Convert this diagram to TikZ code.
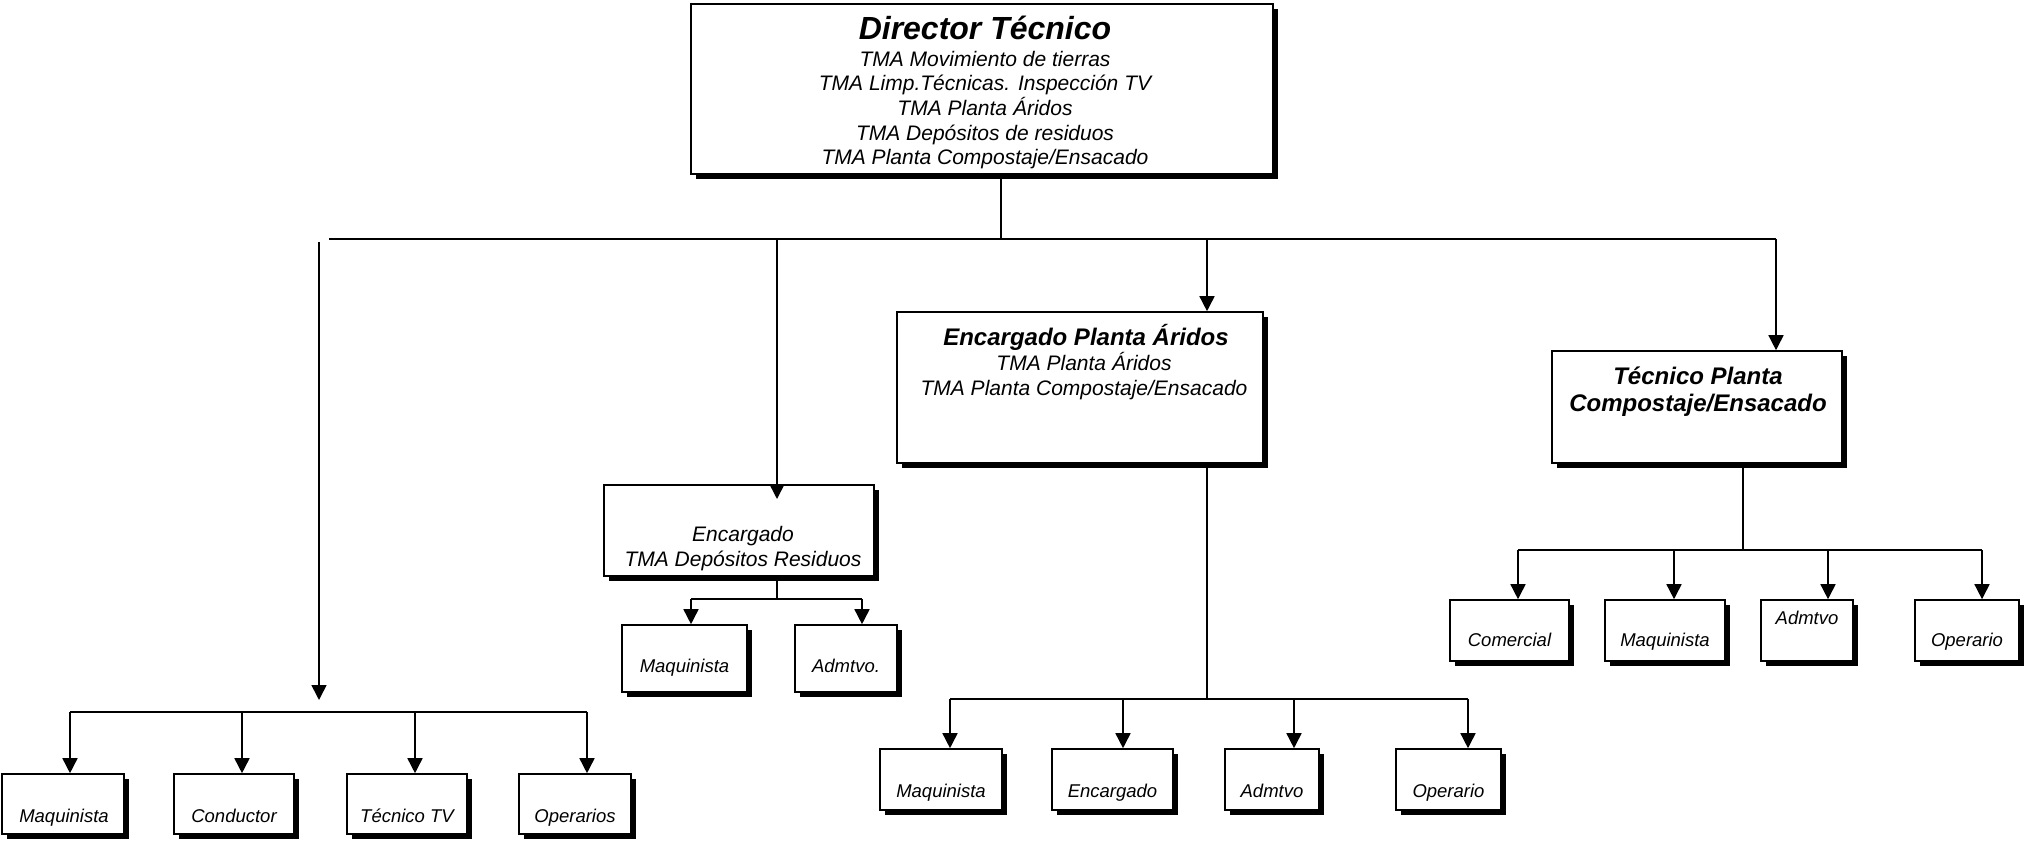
\documentclass[tikz,border=0pt]{standalone}
\usepackage{fontspec}
\setmainfont{Liberation Sans}
\usetikzlibrary{arrows.meta,shadows}
\begin{document}
\begin{tikzpicture}[x=1pt,y=-1pt,
  box/.style={draw=black,line width=1.6pt,fill=white,inner sep=0pt,
     general shadow={fill=black,shadow xshift=5pt,shadow yshift=-5pt}},
  ln/.style={line width=1.6pt},
  arr/.style={line width=1.6pt,-{Triangle[length=15pt,width=15pt]}},
  sm/.style={inner sep=0pt,anchor=base,font=\fontsize{18.5}{22}\selectfont\itshape},
  md/.style={inner sep=0pt,anchor=base,font=\fontsize{21}{25}\selectfont\itshape},
  bg/.style={inner sep=0pt,anchor=base,font=\fontsize{24}{28}\selectfont\bfseries\itshape},
  hg/.style={inner sep=0pt,anchor=base,font=\fontsize{32}{36}\selectfont\bfseries\itshape}]

\useasboundingbox (0,0) rectangle (2033,842);

% ---------- Director
\node[box,minimum width=582pt,minimum height=170pt] (dir) at (982,89) {};
\node[hg] (dirT0) at (985,40) {Director Técnico};
\node[md] (dirT1) at (985,67) {TMA Movimiento de tierras};
\node[md] (dirT2) at (985,91) {TMA Limp.Técnicas. Inspección TV};
\node[md] (dirT3) at (985,116) {TMA Planta Áridos};
\node[md] (dirT4) at (985,141) {TMA Depósitos de residuos};
\node[md] (dirT5) at (985,165) {TMA Planta Compostaje/Ensacado};

% ---------- second level boxes
\node[box,minimum width=270pt,minimum height=91pt] (dep) at (739,530.5) {};
\node[md] (depT1) at (743,541) {Encargado};
\node[md] (depT2) at (743,566) {TMA Depósitos Residuos};

\node[box,minimum width=366pt,minimum height=151pt] (ari) at (1080,387.5) {};
\node[bg] (ariT0) at (1086,345) {Encargado Planta Áridos};
\node[md] (ariT1) at (1084,370) {TMA Planta Áridos};
\node[md] (ariT2) at (1084,395) {TMA Planta Compostaje/Ensacado};

\node[box,minimum width=290pt,minimum height=112pt] (tec) at (1697,407) {};
\node[bg] (tecT0) at (1698,384) {Técnico Planta};
\node[bg] (tecT1) at (1698,411) {Compostaje/Ensacado};

% ---------- left group
\node[box,minimum width=122pt,minimum height=60pt] (l1) at (63,804) {};
\node[box,minimum width=120pt,minimum height=60pt] (l2) at (234,804) {};
\node[box,minimum width=120pt,minimum height=60pt] (l3) at (407,804) {};
\node[box,minimum width=112pt,minimum height=60pt] (l4) at (575,804) {};
\node[sm] (l1T) at (64,822) {Maquinista};
\node[sm] (l2T) at (234,822) {Conductor};
\node[sm] (l3T) at (407,822) {Técnico TV};
\node[sm] (l4T) at (575,822) {Operarios};

% ---------- deposit group
\node[box,minimum width=125pt,minimum height=67pt] (d1) at (684.5,658.5) {};
\node[box,minimum width=102pt,minimum height=67pt] (d2) at (846,658.5) {};
\node[sm] (d1T) at (684.5,672) {Maquinista};
\node[sm] (d2T) at (846,672) {Admtvo.};

% ---------- aridos group
\node[box,minimum width=122pt,minimum height=61pt] (a1) at (941,779.5) {};
\node[box,minimum width=121pt,minimum height=61pt] (a2) at (1112.5,779.5) {};
\node[box,minimum width=94pt,minimum height=61pt] (a3) at (1272,779.5) {};
\node[box,minimum width=105pt,minimum height=61pt] (a4) at (1448.5,779.5) {};
\node[sm] (a1T) at (941,797) {Maquinista};
\node[sm] (a2T) at (1112.5,797) {Encargado};
\node[sm] (a3T) at (1272,797) {Admtvo};
\node[sm] (a4T) at (1448.5,797) {Operario};

% ---------- tecnico group
\node[box,minimum width=119pt,minimum height=61pt] (t1) at (1509.5,630.5) {};
\node[box,minimum width=120pt,minimum height=61pt] (t2) at (1665,630.5) {};
\node[box,minimum width=92pt,minimum height=61pt] (t3) at (1807,630.5) {};
\node[box,minimum width=104pt,minimum height=61pt] (t4) at (1967,630.5) {};
\node[sm] (t1T) at (1509.5,646) {Comercial};
\node[sm] (t2T) at (1665,646) {Maquinista};
\node[sm] (t3T) at (1807,624) {Admtvo};
\node[sm] (t4T) at (1967,646) {Operario};

% ---------- coordinates
\coordinate (j0) at (1001,239);
\coordinate (barL) at (329,239);
\coordinate (barR) at (1776,239);
\coordinate (vL) at (319,242);
\coordinate (vLend) at (319,700);
\coordinate (depX) at (777,499);
\coordinate (ariX) at (1207,0);
\coordinate (lbar) at (0,712);
\coordinate (dbar) at (0,599);
\coordinate (abar) at (0,699);
\coordinate (tbar) at (0,550);
\coordinate (tecX) at (1743,0);

% top level
\draw[ln] (dir.south -| j0) -- (j0);
\draw[ln] (barL) -- (barR);
\draw[arr] (vL) -- (vLend);
\draw[arr] (barL -| depX) -- (depX);
\draw[arr] (barL -| ariX) -- (ari.north -| ariX);
\draw[arr] (barR) -- (tec.north -| barR);

% left group
\coordinate (lx1) at (70,0);
\coordinate (lx2) at (242,0);
\coordinate (lx3) at (415,0);
\coordinate (lx4) at (587,0);
\draw[ln] (lbar -| lx1) -- (lbar -| lx4);
\draw[arr] (lbar -| lx1) -- (l1.north -| lx1);
\draw[arr] (lbar -| lx2) -- (l2.north -| lx2);
\draw[arr] (lbar -| lx3) -- (l3.north -| lx3);
\draw[arr] (lbar -| lx4) -- (l4.north -| lx4);

% deposit group
\coordinate (dx1) at (691,0);
\coordinate (dx2) at (862,0);
\draw[ln] ([yshift=-4pt]dep.south -| depX) -- (dbar -| depX);
\draw[ln] (dbar -| dx1) -- (dbar -| dx2);
\draw[arr] (dbar -| dx1) -- (d1.north -| dx1);
\draw[arr] (dbar -| dx2) -- (d2.north -| dx2);

% aridos group
\coordinate (ax1) at (950,0);
\coordinate (ax2) at (1123,0);
\coordinate (ax3) at (1294,0);
\coordinate (ax4) at (1468,0);
\draw[ln] (ari.south -| ariX) -- (abar -| ariX);
\draw[ln] (abar -| ax1) -- (abar -| ax4);
\draw[arr] (abar -| ax1) -- (a1.north -| ax1);
\draw[arr] (abar -| ax2) -- (a2.north -| ax2);
\draw[arr] (abar -| ax3) -- (a3.north -| ax3);
\draw[arr] (abar -| ax4) -- (a4.north -| ax4);

% tecnico group
\coordinate (tx1) at (1518,0);
\coordinate (tx2) at (1674,0);
\coordinate (tx3) at (1828,0);
\coordinate (tx4) at (1982,0);
\draw[ln] (tec.south -| tecX) -- (tbar -| tecX);
\draw[ln] (tbar -| tx1) -- (tbar -| tx4);
\draw[arr] (tbar -| tx1) -- (t1.north -| tx1);
\draw[arr] (tbar -| tx2) -- (t2.north -| tx2);
\draw[arr] (tbar -| tx3) -- (t3.north -| tx3);
\draw[arr] (tbar -| tx4) -- (t4.north -| tx4);
\end{tikzpicture}
\end{document}
